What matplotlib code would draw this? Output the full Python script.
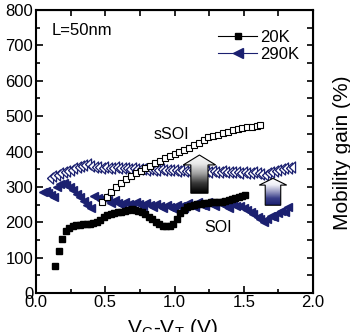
import numpy as np
import matplotlib
matplotlib.use("Agg")
import matplotlib.pyplot as plt
from matplotlib.patches import Polygon
from matplotlib.colors import LinearSegmentedColormap
from matplotlib.lines import Line2D

plt.rcParams['font.family'] = ['Liberation Sans', 'DejaVu Sans']
plt.rcParams['mathtext.fontset'] = 'custom'
plt.rcParams['mathtext.rm'] = 'Liberation Sans'
plt.rcParams['mathtext.it'] = 'Liberation Sans:italic'

NAVY = "#1b2070"
# narrow left-pointing triangle, like the squeezed markers of the original
NARROW_LEFT = [(-0.55, 0.0), (0.55, 1.0), (0.55, -1.0), (-0.55, 0.0)]

# 20K, SOI (filled squares)
soi_20k_x = [0.137, 0.163, 0.19, 0.213, 0.24, 0.265, 0.29, 0.315, 0.34, 0.365, 0.39, 0.415,
             0.44, 0.465, 0.49, 0.515, 0.54, 0.565, 0.59, 0.615, 0.64, 0.665, 0.69, 0.715,
             0.74, 0.765, 0.79, 0.815, 0.84, 0.865, 0.89, 0.915, 0.94, 0.965, 0.99, 1.015,
             1.04, 1.065, 1.09, 1.115, 1.14, 1.165, 1.19, 1.215, 1.24, 1.265, 1.29, 1.315,
             1.34, 1.365, 1.39, 1.415, 1.44, 1.465, 1.49, 1.51]
soi_20k_y = [76, 118, 152, 175, 185, 190, 192, 193, 194, 195, 195, 197,
             200, 206, 214, 220, 224, 226, 228, 230, 233, 236, 238, 236,
             232, 228, 224, 216, 208, 200, 194, 190, 188, 190, 195, 210,
             225, 235, 242, 246, 249, 251, 253, 254, 255, 256, 257, 258,
             258, 260, 262, 265, 269, 272, 275, 277]

# 20K, sSOI (open squares)
ssoi_20k_x = [0.48, 0.51, 0.545, 0.58, 0.615, 0.65, 0.685, 0.72, 0.755, 0.79, 0.825, 0.86,
              0.895, 0.93, 0.965, 1.0, 1.035, 1.07, 1.105, 1.14, 1.175, 1.21, 1.245, 1.28,
              1.315, 1.35, 1.385, 1.42, 1.455, 1.49, 1.525, 1.56, 1.595, 1.62]
ssoi_20k_y = [258, 270, 285, 300, 312, 322, 331, 338, 345, 352, 360, 367,
              374, 381, 388, 394, 399, 404, 410, 417, 424, 432, 440, 444,
              448, 452, 456, 460, 463, 466, 468, 470, 472, 474]

# 290K, SOI (filled left triangles)
soi_290k_x = [0.05, 0.07, 0.09, 0.11, 0.13, 0.15, 0.17, 0.2, 0.22, 0.245, 0.27, 0.295,
              0.32, 0.345, 0.37, 0.395, 0.42, 0.445, 0.47, 0.495, 0.52, 0.545, 0.57, 0.595,
              0.62, 0.645, 0.67, 0.695, 0.72, 0.745, 0.77, 0.795, 0.82, 0.845, 0.87, 0.895,
              0.92, 0.945, 0.97, 0.995, 1.02, 1.045, 1.07, 1.095, 1.12, 1.145, 1.17, 1.195,
              1.22, 1.245, 1.27, 1.295, 1.32, 1.345, 1.37, 1.395, 1.42, 1.445, 1.47, 1.5,
              1.52, 1.55, 1.57, 1.6, 1.62, 1.645, 1.67, 1.695, 1.72, 1.745, 1.77, 1.795, 1.82]
soi_290k_y = [285, 288, 282, 276, 270, 300, 308, 312, 306, 300, 290, 280,
              270, 260, 250, 240, 275, 268, 262, 270, 262, 255, 262, 255,
              250, 258, 252, 248, 258, 252, 246, 255, 248, 242, 252, 246,
              240, 250, 244, 238, 250, 245, 240, 255, 250, 244, 256, 250,
              245, 258, 252, 246, 258, 252, 246, 240, 252, 245, 245, 240,
              235, 228, 222, 215, 210, 202, 210, 218, 215, 225, 232, 230, 242]

# 290K, sSOI (open left triangles)
ssoi_290k_x = [0.1, 0.125, 0.15, 0.175, 0.2, 0.225, 0.25, 0.275, 0.3, 0.325, 0.35, 0.375,
               0.4, 0.425, 0.45, 0.475, 0.5, 0.525, 0.55, 0.575, 0.6, 0.625, 0.65, 0.675,
               0.7, 0.725, 0.75, 0.775, 0.8, 0.825, 0.85, 0.875, 0.9, 0.925, 0.95, 0.975,
               1.0, 1.025, 1.05, 1.075, 1.1, 1.125, 1.15, 1.175, 1.2, 1.225, 1.25, 1.275,
               1.3, 1.325, 1.35, 1.375, 1.4, 1.425, 1.45, 1.475, 1.5, 1.525, 1.55, 1.575,
               1.6, 1.625, 1.65, 1.675, 1.7, 1.725, 1.75, 1.775, 1.8, 1.825, 1.85]
ssoi_290k_y = [325, 330, 334, 338, 342, 346, 349, 352, 355, 358, 362, 364,
               360, 356, 355, 354, 356, 354, 353, 355, 353, 352, 353, 351,
               352, 350, 351, 350, 349, 350, 349, 348, 350, 348, 347, 349,
               347, 346, 348, 346, 345, 347, 345, 344, 346, 344, 343, 345,
               343, 342, 344, 342, 341, 343, 341, 340, 342, 340, 339, 341,
               338, 336, 334, 338, 342, 345, 347, 350, 352, 354, 356]

# arrows: (x centre, bottom, head base, tip, shaft half width, head half width)
big_arrow = (1.18, 282, 362, 390, 0.062, 0.117)
small_arrow = (1.711, 248, 305, 324, 0.056, 0.099)


def gradient_arrow(ax, spec, colors):
    xc, yb, yh, yt, sw, hw = spec
    verts = [(xc - sw, yb), (xc + sw, yb), (xc + sw, yh), (xc + hw, yh),
             (xc, yt), (xc - hw, yh), (xc - sw, yh)]
    poly = Polygon(verts, closed=True, facecolor="none", edgecolor="black",
                   lw=0.8, zorder=6)
    ax.add_patch(poly)
    cmap = LinearSegmentedColormap.from_list("g", colors)
    grad = np.linspace(0, 1, 100).reshape(-1, 1)
    im = ax.imshow(grad, cmap=cmap, extent=(xc - hw, xc + hw, yb, yt), origin="upper",
                   aspect="auto", zorder=5, interpolation="bilinear")
    im.set_clip_path(poly)


fig = plt.figure(figsize=(3.5, 3.32), dpi=100)
ax = fig.add_axes([36 / 350, 1 - 293 / 332, 277 / 350, 283 / 332])

ax.plot(soi_290k_x, soi_290k_y, ls="none", marker="<", ms=6, color=NAVY, mec=NAVY, zorder=2)
ax.plot(soi_20k_x, soi_20k_y, ls="none", marker="s", ms=3.8, color="black", zorder=3)
ax.plot(ssoi_290k_x, ssoi_290k_y, ls="none", marker=NARROW_LEFT, ms=8, mfc="white", mec=NAVY,
        mew=0.9, zorder=3)
ax.plot(ssoi_20k_x, ssoi_20k_y, ls="none", marker="s", ms=5, mfc="white", mec="black",
        mew=0.8, zorder=4)

gradient_arrow(ax, big_arrow, ["white", "#e8e8e8", "#a0a0a0", "#383838", "black"])
gradient_arrow(ax, small_arrow, ["white", "#eeeef6", "#9a9cc4", "#3a3f8a", NAVY])

ax.set_xlim(0, 2.0)
ax.set_ylim(0, 800)
ax.set_xticks([0, 0.5, 1.0, 1.5, 2.0])
ax.set_xticks([0.25, 0.75, 1.25, 1.75], minor=True)
ax.set_yticks(range(0, 801, 100))
ax.set_yticks(range(50, 800, 100), minor=True)
ax.set_xticklabels(["0.0", "0.5", "1.0", "1.5", "2.0"])
ax.tick_params(which="major", direction="in", length=5, width=1.2, labelsize=12, pad=2)
ax.tick_params(which="minor", direction="in", length=3, width=1.2)
ax.tick_params(axis="x", pad=1.5)
for s in ax.spines.values():
    s.set_linewidth(1.5)

top = ax.secondary_xaxis("top")
top.set_xticks([0.25, 0.5, 0.75, 1.0, 1.25, 1.5, 1.75])
top.tick_params(direction="in", length=4, width=1.2, labeltop=False)
right = ax.secondary_yaxis("right")
right.set_yticks(range(50, 800, 50))
right.tick_params(direction="in", length=4, width=1.2, labelright=False)

ax.text(0.115, 741, "L=50nm", fontsize=12, va="center", ha="left")
ax.text(0.98, 449, "sSOI", fontsize=11.5, va="center", ha="center")
ax.text(1.318, 184, "SOI", fontsize=11.5, va="center", ha="center")

handles = [Line2D([], [], color="black", lw=0.8, marker="s", ms=4.5),
           Line2D([], [], color=NAVY, lw=0.8, marker="<", ms=6.5)]
ax.legend(handles, ["20K", "290K"], loc="upper right", bbox_to_anchor=(0.95, 0.93),
          frameon=False, fontsize=12, handlelength=2.3, handletextpad=0.2,
          labelspacing=0.15, borderpad=0, borderaxespad=0)

fig.text(172 / 350, 1 - 317 / 332, "V$_\\mathrm{G}$-V$_\\mathrm{T}$ (V)", fontsize=15,
         ha="center", va="top")
fig.text(333 / 350, 1 - 153 / 332, "Mobility gain (%)", fontsize=15, rotation=90,
         ha="left", va="center")
fig.text(1.5 / 350, 1 - 151 / 332, "$\\mu_\\mathrm{eff}$ (cm$^2$/Vs)", fontsize=13, rotation=90,
         ha="right", va="center")

fig.savefig("out.png", dpi=100)
